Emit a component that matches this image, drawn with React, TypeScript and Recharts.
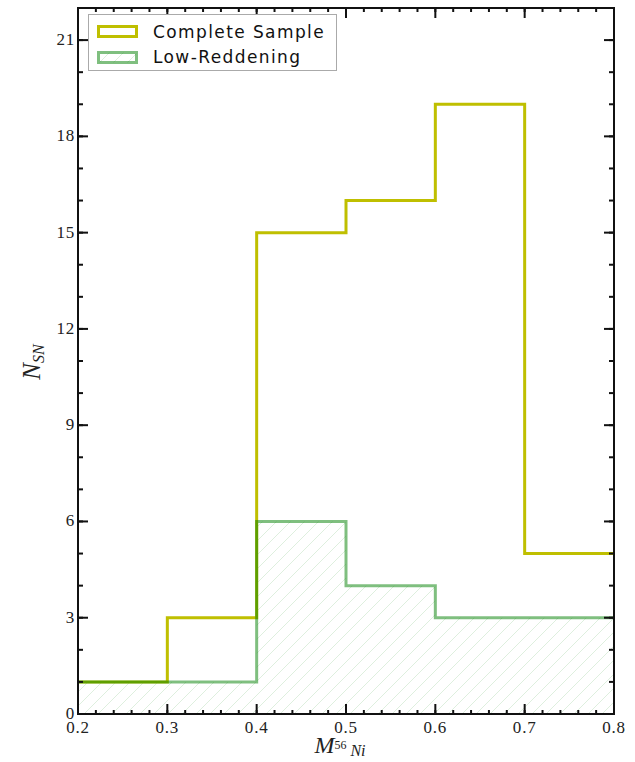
import React from 'react';
import { Area, ComposedChart, Line, XAxis, YAxis } from 'recharts';

// histogram bin edges and counts
const binEdges = [0.2, 0.3, 0.4, 0.5, 0.6, 0.7, 0.8];
const completeCounts = [1, 3, 15, 16, 19, 5];
const lowReddeningCounts = [1, 1, 6, 4, 3, 3];

const xMajorTicks = [0.2, 0.3, 0.4, 0.5, 0.6, 0.7, 0.8];
const yMajorTicks = [0, 3, 6, 9, 12, 15, 18, 21];
const xMinorTicks = Array.from({ length: 31 }, (_, i) => 0.2 + i * 0.02);
const yMinorTicks = Array.from({ length: 23 }, (_, i) => i);

const YELLOW = '#bfbf00';
const GREEN_A = 'rgba(0,128,0,0.5)';
const SERIF = '"Liberation Serif", "DejaVu Serif", serif';
const SANS = '"DejaVu Sans", sans-serif';

// step data: last edge repeats the final count
const data = binEdges.map((x, i) => ({
  x,
  complete: completeCounts[Math.min(i, completeCounts.length - 1)],
  low: lowReddeningCounts[Math.min(i, lowReddeningCounts.length - 1)],
}));

const tickLabelStyle = { fontFamily: SERIF, fontSize: 17, fill: '#222', letterSpacing: 0.8 };

const makeXTick = (side: 'bottom' | 'top', len: number, withLabel: boolean) => (props: any) => {
  const { x, y, payload } = props;
  const dy = side === 'bottom' ? -len : len;
  return (
    <g>
      <line x1={x} x2={x} y1={y} y2={y + dy} stroke="#111" strokeWidth={2} />
      {withLabel && (
        <text x={x} y={y + 19} textAnchor="middle" style={tickLabelStyle}>
          {Number(payload.value).toFixed(1)}
        </text>
      )}
    </g>
  );
};

const makeYTick = (side: 'left' | 'right', len: number, withLabel: boolean) => (props: any) => {
  const { x, y, payload } = props;
  const dx = side === 'left' ? len : -len;
  return (
    <g>
      <line x1={x} x2={x + dx} y1={y} y2={y} stroke="#111" strokeWidth={2} />
      {withLabel && (
        <text x={x - 3} y={y + 5} textAnchor="end" style={tickLabelStyle}>
          {payload.value}
        </text>
      )}
    </g>
  );
};

const LegendBox = () => (
  <div
    style={{
      position: 'absolute',
      left: 88,
      top: 14,
      width: 249,
      height: 57,
      boxSizing: 'border-box',
      border: '1px solid #aaa',
      background: '#fff',
      fontFamily: SANS,
      fontSize: 17,
      letterSpacing: 1.4,
      color: '#111',
    }}
  >
    <div style={{ position: 'absolute', left: 8, top: 10, width: 41, height: 13, boxSizing: 'border-box', border: `3px solid ${YELLOW}` }} />
    <div style={{ position: 'absolute', left: 64, top: 6, lineHeight: '22px' }}>Complete Sample</div>
    <svg style={{ position: 'absolute', left: 8, top: 36 }} width={41} height={13}>
      <rect x={1.5} y={1.5} width={38} height={10} fill="url(#hatch)" stroke={GREEN_A} strokeWidth={3} />
    </svg>
    <div style={{ position: 'absolute', left: 64, top: 31, lineHeight: '22px' }}>Low-Reddening</div>
  </div>
);

const xAxisCommon = {
  dataKey: 'x',
  type: 'number' as const,
  domain: [0.2, 0.8],
  allowDataOverflow: true,
  interval: 0 as const,
  height: 1,
  tickSize: 0,
  tickMargin: 0,
  tickLine: false,
};

const yAxisCommon = {
  type: 'number' as const,
  domain: [0, 22],
  allowDataOverflow: true,
  interval: 0 as const,
  width: 1,
  tickSize: 0,
  tickMargin: 0,
  tickLine: false,
};

const frameLine = { stroke: '#111', strokeWidth: 2 };

export default function App() {
  return (
    <div style={{ position: 'absolute', left: 0, top: 0, width: 635, height: 762, background: '#fff' }}>
      <ComposedChart width={635} height={762} data={data} margin={{ top: 6, right: 19, bottom: 46, left: 76 }}>
        <defs>
          <pattern id="hatch" patternUnits="userSpaceOnUse" width={14} height={14}>
            <path d="M-2,2 l4,-4 M0,14 l14,-14 M12,16 l4,-4" stroke="rgba(0,128,0,0.13)" strokeWidth={1} />
          </pattern>
        </defs>
        <XAxis xAxisId="b" {...xAxisCommon} ticks={xMajorTicks} axisLine={frameLine} tick={makeXTick('bottom', 10, true)} />
        <XAxis xAxisId="bm" {...xAxisCommon} ticks={xMinorTicks} axisLine={false} tick={makeXTick('bottom', 5, false)} />
        <XAxis xAxisId="t" orientation="top" {...xAxisCommon} ticks={xMajorTicks} axisLine={frameLine} tick={makeXTick('top', 10, false)} />
        <XAxis xAxisId="tm" orientation="top" {...xAxisCommon} ticks={xMinorTicks} axisLine={false} tick={makeXTick('top', 5, false)} />
        <YAxis yAxisId="l" {...yAxisCommon} ticks={yMajorTicks} axisLine={frameLine} tick={makeYTick('left', 10, true)} />
        <YAxis yAxisId="lm" {...yAxisCommon} ticks={yMinorTicks} axisLine={false} tick={makeYTick('left', 6, false)} />
        <YAxis yAxisId="r" orientation="right" {...yAxisCommon} ticks={yMajorTicks} axisLine={frameLine} tick={makeYTick('right', 10, false)} />
        <YAxis yAxisId="rm" orientation="right" {...yAxisCommon} ticks={yMinorTicks} axisLine={false} tick={makeYTick('right', 6, false)} />
        <Area
          xAxisId="b"
          yAxisId="l"
          type="stepAfter"
          dataKey="low"
          stroke="none"
          fill="url(#hatch)"
          fillOpacity={1}
          isAnimationActive={false}
        />
        <Line
          xAxisId="b"
          yAxisId="l"
          type="stepAfter"
          dataKey="complete"
          name="Complete Sample"
          stroke={YELLOW}
          strokeWidth={3}
          dot={false}
          isAnimationActive={false}
        />
        <Line
          xAxisId="b"
          yAxisId="l"
          type="stepAfter"
          dataKey="low"
          name="Low-Reddening"
          stroke={GREEN_A}
          strokeWidth={3}
          dot={false}
          isAnimationActive={false}
        />
        <text x={0} y={0} transform="translate(40,362) rotate(-90)" textAnchor="middle" style={{ fontFamily: SERIF, fill: '#222' }}>
          <tspan fontSize={25} fontStyle="italic">N</tspan>
          <tspan fontSize={16} fontStyle="italic" dy={4}>SN</tspan>
        </text>
        <text x={340} y={753} textAnchor="middle" style={{ fontFamily: SERIF, fill: '#222' }}>
          <tspan fontSize={24} fontStyle="italic">M</tspan>
          <tspan fontSize={12} dy={-4}>56</tspan>
          <tspan fontSize={16} fontStyle="italic" dy={7}> Ni</tspan>
        </text>
      </ComposedChart>
      <LegendBox />
    </div>
  );
}
